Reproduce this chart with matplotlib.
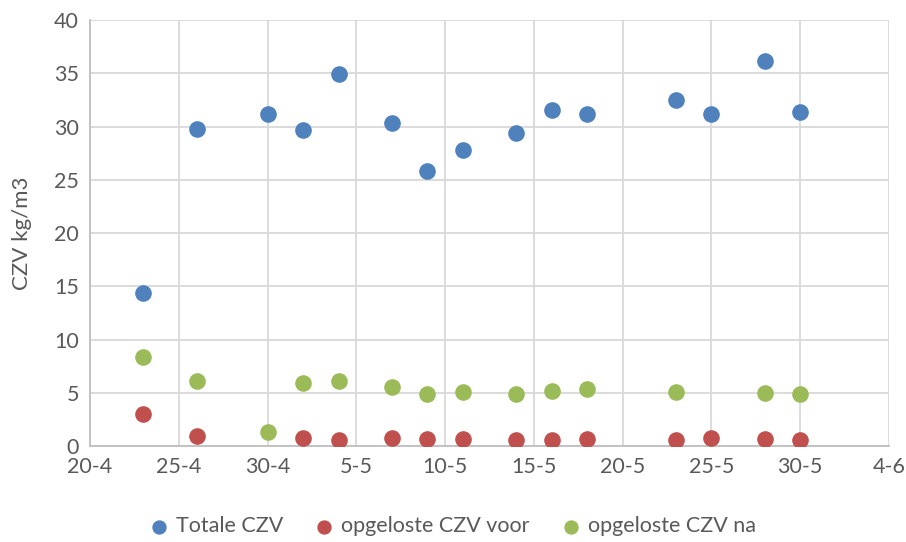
import matplotlib
matplotlib.use("Agg")
import matplotlib.pyplot as plt
import matplotlib.dates as mdates
import numpy as np
from datetime import date

plt.rcParams['font.family'] = ['Lato', 'DejaVu Sans']

dates = [date(2020, 4, 23), date(2020, 4, 26), date(2020, 4, 30), date(2020, 5, 2),
         date(2020, 5, 4), date(2020, 5, 7), date(2020, 5, 9), date(2020, 5, 11),
         date(2020, 5, 14), date(2020, 5, 16), date(2020, 5, 18), date(2020, 5, 23),
         date(2020, 5, 25), date(2020, 5, 28), date(2020, 5, 30)]
totale = [14.4, 29.8, 31.2, 29.7, 34.9, 30.3, 25.8, 27.8, 29.4, 31.6, 31.2, 32.5, 31.2, 36.2, 31.4]
voor = [3.0, 0.9, np.nan, 0.8, 0.6, 0.8, 0.7, 0.7, 0.6, 0.6, 0.7, 0.6, 0.8, 0.7, 0.6]
na = [8.4, 6.1, 1.3, 5.9, 6.1, 5.5, 4.9, 5.1, 4.9, 5.2, 5.4, 5.1, np.nan, 5.0, 4.9]

grey = '#595959'
fig = plt.figure(figsize=(9.06, 5.42), dpi=100)
ax = fig.add_axes([0.0993, 0.177, 0.882, 0.786])

x = mdates.date2num(dates)
ax.scatter(x, totale, s=120, color='#4F81BD', label='Totale CZV', zorder=3)
ax.scatter(x, voor, s=120, color='#C0504D', label='opgeloste CZV voor', zorder=3)
ax.scatter(x, na, s=120, color='#9BBB59', label='opgeloste CZV na', zorder=3)

ax.set_xlim(mdates.date2num(date(2020, 4, 20)), mdates.date2num(date(2020, 6, 4)))
ax.set_ylim(0, 40)
ticks = [mdates.date2num(date(2020, 4, 20)) + 5 * i for i in range(10)]
ax.set_xticks(ticks)
ax.xaxis.set_major_formatter(mdates.DateFormatter('%-d-%-m'))
ax.set_yticks(range(0, 41, 5))
ax.grid(True, color='#d9d9d9', linewidth=1.3)
ax.set_axisbelow(True)
for s in ['top', 'right']:
    ax.spines[s].set_visible(False)
for s in ['left', 'bottom']:
    ax.spines[s].set_color('#bfbfbf')
    ax.spines[s].set_linewidth(1.3)
ax.tick_params(length=0, labelsize=15.5, colors=grey, pad=8)
ax.set_ylabel('CZV kg/m3', fontsize=16, color=grey, labelpad=16)

fig.legend(loc='lower center', ncol=3, frameon=False, fontsize=15.5, labelcolor=grey,
           handlelength=0.8, handletextpad=0.4, columnspacing=1.5, markerscale=0.85,
           bbox_to_anchor=(0.5, -0.025))

fig.savefig('out.png', dpi=100)
